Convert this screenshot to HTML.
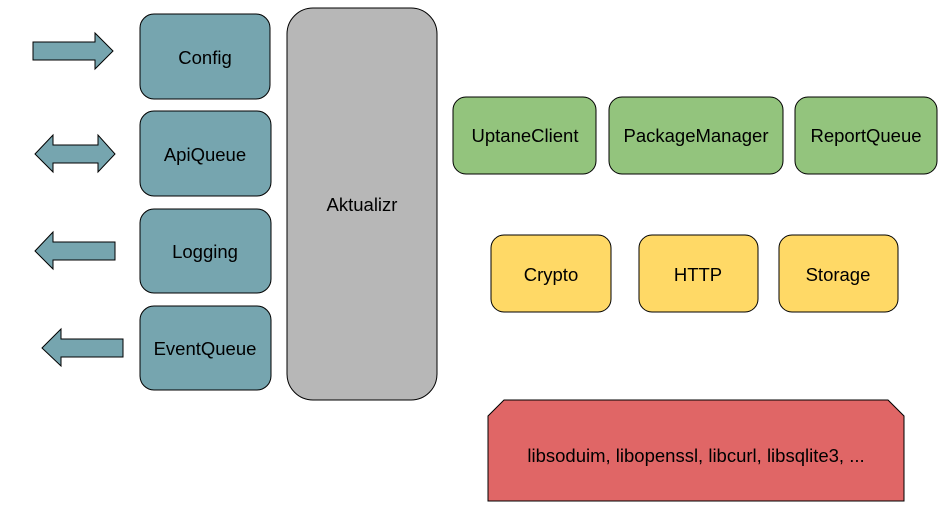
<!DOCTYPE html>
<html><head><meta charset="utf-8"><style>
body{margin:0;background:#fff;width:949px;height:517px;overflow:hidden}
</style></head><body>
<svg width="949" height="517" xmlns="http://www.w3.org/2000/svg" font-family="Liberation Sans, Arial, sans-serif" font-size="18.5" text-anchor="middle">
<g stroke="#000" stroke-width="1">
<polygon points="33,42 95,42 95,33 113,51 95,69 95,60 33,60" fill="#76a5af"/>
<polygon points="35,154 53,135 53,145 98,145 98,135 115,154 98,172 98,163 53,163 53,172" fill="#76a5af"/>
<polygon points="35,251 53,232 53,242 115,242 115,260 53,260 53,269" fill="#76a5af"/>
<polygon points="42,348 61,329 61,339 123,339 123,357 61,357 61,366" fill="#76a5af"/>
<rect x="140" y="14" width="130" height="85" rx="14" fill="#76a5af"/>
<rect x="140" y="111" width="131" height="85" rx="14" fill="#76a5af"/>
<rect x="140" y="209" width="131" height="84" rx="14" fill="#76a5af"/>
<rect x="140" y="306" width="131" height="84" rx="14" fill="#76a5af"/>
<rect x="287" y="8" width="150" height="392" rx="26" fill="#b7b7b7"/>
<rect x="453" y="97" width="143" height="77" rx="13" fill="#93c47d"/>
<rect x="609" y="97" width="174" height="77" rx="13" fill="#93c47d"/>
<rect x="795" y="97" width="142" height="77" rx="13" fill="#93c47d"/>
<rect x="491" y="235" width="120" height="77" rx="13" fill="#ffd966"/>
<rect x="639" y="235" width="119" height="77" rx="13" fill="#ffd966"/>
<rect x="779" y="235" width="119" height="77" rx="13" fill="#ffd966"/>
<polygon points="488,416 504,400 888,400 904,416 904,501 488,501" fill="#e06666"/>
</g>
<g fill="#000">
<text x="205" y="64">Config</text>
<text x="205" y="161">ApiQueue</text>
<text x="205" y="258">Logging</text>
<text x="205" y="355">EventQueue</text>
<text x="362" y="211">Aktualizr</text>
<text x="525" y="142">UptaneClient</text>
<text x="696" y="142">PackageManager</text>
<text x="866" y="142">ReportQueue</text>
<text x="551" y="281">Crypto</text>
<text x="698" y="281">HTTP</text>
<text x="838" y="281">Storage</text>
<text x="696" y="462">libsoduim, libopenssl, libcurl, libsqlite3, ...</text>
</g>
</svg>
</body></html>
